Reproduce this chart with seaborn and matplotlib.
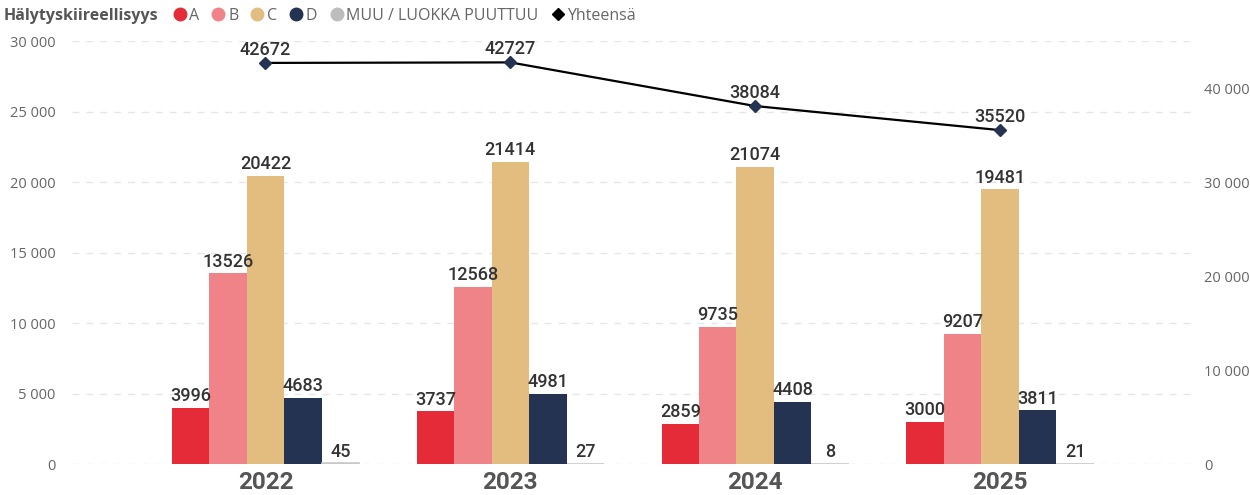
import pandas as pd
import numpy as np
import matplotlib.pyplot as plt
import seaborn as sns
from matplotlib.lines import Line2D

# data
years = ["2022", "2023", "2024", "2025"]
categories = ["A", "B", "C", "D", "MUU / LUOKKA PUUTTUU"]
val_a = [3996, 3737, 2859, 3000]
val_b = [13526, 12568, 9735, 9207]
val_c = [20422, 21414, 21074, 19481]
val_d = [4683, 4981, 4408, 3811]
val_muu = [45, 27, 8, 21]
totals = [42672, 42727, 38084, 35520]

colors = ["#E52B38", "#F08388", "#E3BC7F", "#243352", "#BDBDBD"]

rows = []
for cat, vals in zip(categories, [val_a, val_b, val_c, val_d, val_muu]):
    for y, v in zip(years, vals):
        rows.append({"year": y, "cat": cat, "value": v})
df = pd.DataFrame(rows)

sns.set_theme(style="white")
plt.rcParams['font.family'] = ['Open Sans', 'DejaVu Sans']

fig = plt.figure(figsize=(12.5, 4.95), dpi=100)
ax = fig.add_axes([0.0576, 0.0626, 0.8992, 0.8545])

sns.barplot(data=df, x="year", y="value", hue="cat", order=years, hue_order=categories,
            palette=colors, saturation=1, width=0.765, gap=0, linewidth=0, ax=ax, legend=False)

# the "MUU" bars are almost zero, give them a thin visible base line
for bar in ax.containers[-1]:
    bar.set_edgecolor("#C8C8C8")
    bar.set_linewidth(1.2)

for cont in ax.containers:
    ax.bar_label(cont, fmt="%d", padding=2, fontsize=13, color="#333333",
                 family=["Roboto", "DejaVu Sans"], fontweight="medium")

ax.set_xlim(-0.79, 3.80)
ax.set_ylim(0, 30000)
ax.set_yticks(np.arange(0, 30001, 5000))
ax.set_yticklabels([f"{int(t):,}".replace(",", " ") for t in ax.get_yticks()],
                   fontsize=10.5, color="#666666")
ax.set_xticks(range(len(years)))
ax.set_xticklabels(years, fontsize=17.5, fontweight="bold", color="#555555",
                   family=["Roboto", "DejaVu Sans"])
ax.tick_params(axis="x", length=0, pad=5)
ax.tick_params(axis="y", length=0, pad=12)
ax.set_xlabel("")
ax.set_ylabel("")
ax.grid(axis="y", linestyle=(0, (5, 5)), color="#E6E6E6", linewidth=1)
ax.set_axisbelow(True)
for s in ax.spines.values():
    s.set_visible(False)

# line on secondary axis
ax2 = ax.twinx()
xs = np.arange(len(years))
ax2.plot(xs, totals, color="black", linewidth=1.6, zorder=3)
ax2.plot(xs, totals, linestyle="none", marker="D", markersize=6,
         color="#243352", zorder=4)
for x, t in zip(xs, totals):
    ax2.annotate(str(t), (x, t), xytext=(0, 3), textcoords="offset points",
                 ha="center", va="bottom", fontsize=13, color="#333333",
                 family=["Roboto", "DejaVu Sans"], fontweight="medium")
ax2.set_ylim(0, 45000)
ax2.set_yticks(np.arange(0, 40001, 10000))
ax2.set_yticklabels([f"{int(t):,}".replace(",", " ") for t in ax2.get_yticks()],
                    fontsize=10.5, color="#666666")
ax2.tick_params(axis="y", length=0, pad=6)
ax2.grid(False)
for s in ax2.spines.values():
    s.set_visible(False)

# legend
fig.text(0.003, 0.968, "Hälytyskiireellisyys", fontsize=11.5, fontweight="bold",
         color="#555555", va="center", ha="left")
handles = [Line2D([], [], marker="o", linestyle="none", markersize=9, color=c)
           for c in colors]
handles.append(Line2D([], [], marker="D", linestyle="none", markersize=6, color="black"))
leg = fig.legend(handles, categories + ["Yhteensä"], loc="center left",
                 bbox_to_anchor=(0.136, 0.968), ncol=6, frameon=False,
                 handletextpad=0.0, columnspacing=0.6, handlelength=1.2,
                 fontsize=11.5, labelcolor="#666666", borderaxespad=0, borderpad=0)

fig.savefig("out.png", dpi=100)
